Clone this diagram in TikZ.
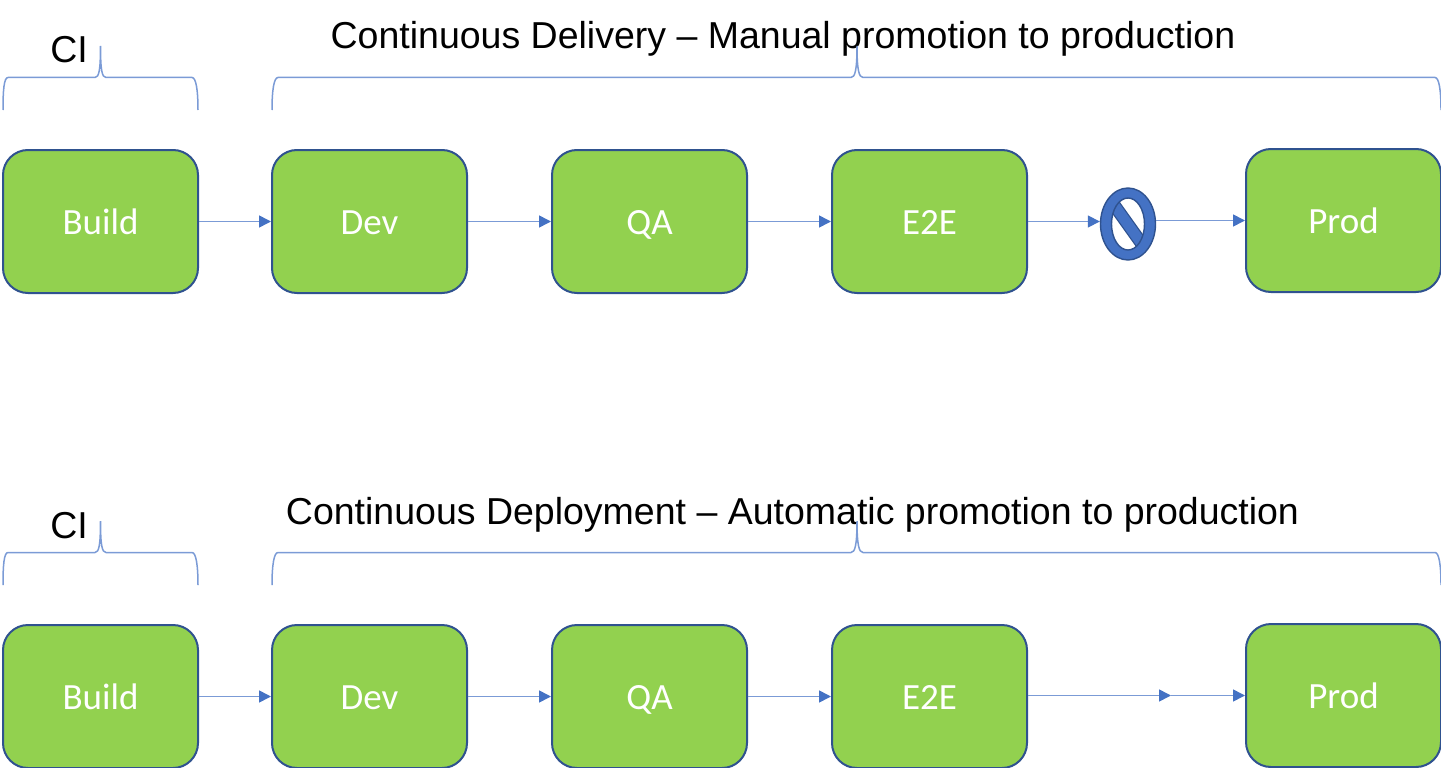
\documentclass[tikz,border=0pt]{standalone}
\usepackage{fontspec}
\setmainfont{Liberation Sans}
\newfontfamily\boxfont{Carlito}
\usetikzlibrary{arrows.meta,shapes.geometric}
\definecolor{boxfill}{HTML}{92D14F}
\definecolor{boxline}{HTML}{2F528F}
\definecolor{linkblue}{HTML}{4472C4}
\definecolor{linksoft}{HTML}{7B9BD6}
\tikzset{
  x=1pt,y=-1pt,
  stagebox/.style={draw=boxline,line width=2pt,fill=boxfill,rounded corners=25pt,minimum width=195pt,minimum height=143pt,inner sep=0pt,text=white,text height=25pt,text depth=0pt,font=\boxfont\fontsize{37}{37}\selectfont},
  link/.style={draw=linksoft,line width=1.6pt,-{Triangle[length=12pt,width=12pt,color=linkblue]}},
  bracepath/.style={draw=linksoft,line width=1.5pt},
  heading/.style={anchor=base,inner sep=0pt,text=black,font=\fontsize{37.5}{37.5}\selectfont},
  forbid/.style={ellipse,minimum width=55pt,minimum height=72pt,inner sep=0pt,draw=boxline,line width=1.4pt,fill=linkblue},
}
\begin{document}
\begin{tikzpicture}
\useasboundingbox (0,0) rectangle (1441,768);
% top row
\node[heading] (citop) at (69,63) {CI};
\node[heading] (titletop) at (783,49) {Continuous Delivery – Manual promotion to production};
\node[stagebox] (b1) at (100.5,221.5) {Build};
\node[stagebox] (d1) at (369.5,221.5) {Dev};
\node[stagebox] (q1) at (649.5,221.5) {QA};
\node[stagebox] (e1) at (929.5,221.5) {E2E};
\node[stagebox] (p1) at (1343.5,220.5) {Prod};
\node[forbid] (no) at (1128,224) {};
\begin{scope}
  \clip (no.center) ellipse [x radius=16.5pt,y radius=26pt];
  \fill[white] (no.center) ellipse [x radius=16.5pt,y radius=26pt];
  \draw[boxline,line width=13pt] (1108,196.5) -- (1148,252.5);
  \draw[linkblue,line width=10.5pt] (1108,196.5) -- (1148,252.5);
\end{scope}
\draw[boxline,line width=1.4pt] (no.center) ellipse [x radius=16.5pt,y radius=26pt];
\draw[link] (b1.east) -- (d1.west);
\draw[link] (d1.east) -- (q1.west);
\draw[link] (q1.east) -- (e1.west);
\draw[link] (e1.east) -- (e1.east -| no.west);
\draw[link] (no.east |- p1.west) -- (p1.west);
% top braces
\draw[bracepath] (3,110) .. controls (3,90) and (4,77.5) .. (8,77.5) -- (95,77.5) .. controls (99,77.5) and (100.5,70) .. (100.5,46) .. controls (100.5,70) and (102,77.5) .. (106,77.5) -- (192,77.5) .. controls (196,77.5) and (198,90) .. (198,110);
\draw[bracepath] (272,110) .. controls (272,90) and (274,77.5) .. (278,77.5) -- (851,77.5) .. controls (855,77.5) and (857,70) .. (857,46) .. controls (857,70) and (859,77.5) .. (863,77.5) -- (1435,77.5) .. controls (1439,77.5) and (1441,90) .. (1441,110);
% bottom row
\node[heading] (cibot) at (69,538) {CI};
\node[heading] (titlebot) at (792.5,524) {Continuous Deployment – Automatic promotion to production};
\node[stagebox] (b2) at (100.5,696.5) {Build};
\node[stagebox] (d2) at (369.5,696.5) {Dev};
\node[stagebox] (q2) at (649.5,696.5) {QA};
\node[stagebox] (e2) at (929.5,696.5) {E2E};
\node[stagebox] (p2) at (1343.5,695.5) {Prod};
\coordinate (mid) at (1171,695.5);
\draw[link] (b2.east) -- (d2.west);
\draw[link] (d2.east) -- (q2.west);
\draw[link] (q2.east) -- (e2.west);
\draw[link] (e2.east |- mid) -- (mid);
\draw[link] (mid) -- (p2.west);
\draw[bracepath] (3,585) .. controls (3,565) and (4,552.5) .. (8,552.5) -- (95,552.5) .. controls (99,552.5) and (100.5,545) .. (100.5,521) .. controls (100.5,545) and (102,552.5) .. (106,552.5) -- (192,552.5) .. controls (196,552.5) and (198,565) .. (198,585);
\draw[bracepath] (272,585) .. controls (272,565) and (274,552.5) .. (278,552.5) -- (851,552.5) .. controls (855,552.5) and (857,545) .. (857,521) .. controls (857,545) and (859,552.5) .. (863,552.5) -- (1435,552.5) .. controls (1439,552.5) and (1441,565) .. (1441,585);
\end{tikzpicture}
\end{document}
